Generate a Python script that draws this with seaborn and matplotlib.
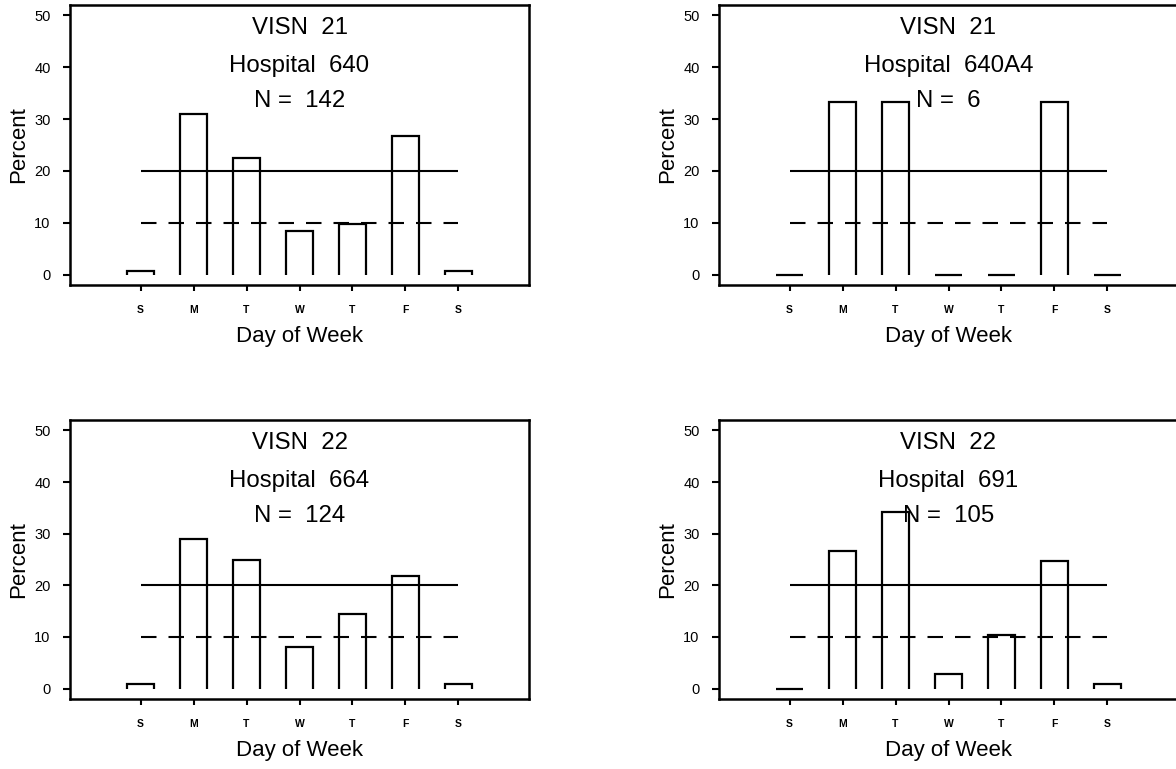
import numpy as np
import pandas as pd
import matplotlib
matplotlib.use("Agg")
import matplotlib.pyplot as plt
import seaborn as sns

# Day-of-week labels (Sunday .. Saturday)
days = ["S", "M", "T", "W", "T", "F", "S"]

# Panel headings
visn = ["21", "21", "22", "22"]
hospitals = ["640", "640A4", "664", "691"]
n_cases = [142, 6, 124, 105]

# Percent of cases on each day of the week
pct_640 = [0.70, 30.99, 22.54, 8.45, 9.86, 26.76, 0.70]
pct_640a4 = [0.0, 33.33, 33.33, 0.0, 0.0, 33.33, 0.0]
pct_664 = [0.81, 29.03, 25.00, 8.06, 14.52, 21.77, 0.81]
pct_691 = [0.0, 26.67, 34.29, 2.86, 10.48, 24.76, 0.95]

# Reference levels
ref_solid = 20
ref_dashed = 10

yticks = [0, 10, 20, 30, 40, 50]

sns.set_theme(style="white")
plt.rcParams["font.family"] = ["Liberation Sans", "DejaVu Sans"]

fig = plt.figure(figsize=(11.76, 7.69), dpi=100)
W, H = 1176, 769
positions = [
    (70, 5, 459, 280),
    (719, 5, 459, 280),
    (70, 420, 459, 279),
    (719, 420, 459, 279),
]
series = [pct_640, pct_640a4, pct_664, pct_691]

for (px, py, pw, ph), vals, v, hosp, n in zip(positions, series, visn, hospitals, n_cases):
    ax = fig.add_axes([px / W, (H - py - ph) / H, pw / W, ph / H])
    df = pd.DataFrame({"day": list(range(len(days))), "pct": vals})
    sns.barplot(data=df, x="day", y="pct", ax=ax, width=0.5,
                fill=False, color="black", errorbar=None)

    # Redraw each bar as an open outline (no edge along the baseline)
    for p in list(ax.patches):
        x0, w, h = p.get_x(), p.get_width(), p.get_height()
        ax.plot([x0, x0, x0 + w, x0 + w], [0, h, h, 0], color="black",
                lw=1.6, solid_joinstyle="miter", solid_capstyle="butt")
        p.remove()

    first, last = 0, len(days) - 1
    ax.hlines(ref_solid, first, last, colors="black", lw=1.5)
    ax.hlines(ref_dashed, first, last, colors="black", lw=1.5,
              linestyles=(0, (7.44, 5.76)))

    ax.set_xlim(-4 / 3, last + 4 / 3)
    ax.set_ylim(-2, 52)
    ax.set_xticks(range(len(days)))
    ax.set_xticklabels(days)
    ax.set_yticks(yticks)
    ax.set_yticklabels([str(t) for t in yticks])

    ax.tick_params(axis="y", direction="out", length=5, width=1.5, pad=9,
                   labelsize=10.5, left=True, colors="black")
    ax.tick_params(axis="x", direction="out", length=4.5, width=1.5, pad=10,
                   labelsize=7.5, bottom=True, colors="black")
    for lab in ax.get_xticklabels():
        lab.set_fontweight("bold")

    for s in ax.spines.values():
        s.set_visible(True)
        s.set_color("black")
        s.set_linewidth(1.8)

    ax.set_ylabel("Percent", fontsize=16, color="black", va="center")
    ax.yaxis.set_label_coords(-51 / pw, 0.5)
    ax.set_xlabel("Day of Week", fontsize=16, color="black", va="top")
    ax.xaxis.set_label_coords(0.5, -41 / ph)

    ax.text(0.5, 1 - 29.3 / ph, f"VISN  {v}", transform=ax.transAxes,
            ha="center", va="baseline", fontsize=17.3, color="black")
    ax.text(0.5, 1 - 66.7 / ph, f"Hospital  {hosp}", transform=ax.transAxes,
            ha="center", va="baseline", fontsize=17.3, color="black")
    ax.text(0.5, 1 - 101.7 / ph, f"N =  {n}", transform=ax.transAxes,
            ha="center", va="baseline", fontsize=17.3, color="black")

fig.savefig("out.png", dpi=100, facecolor="white")
